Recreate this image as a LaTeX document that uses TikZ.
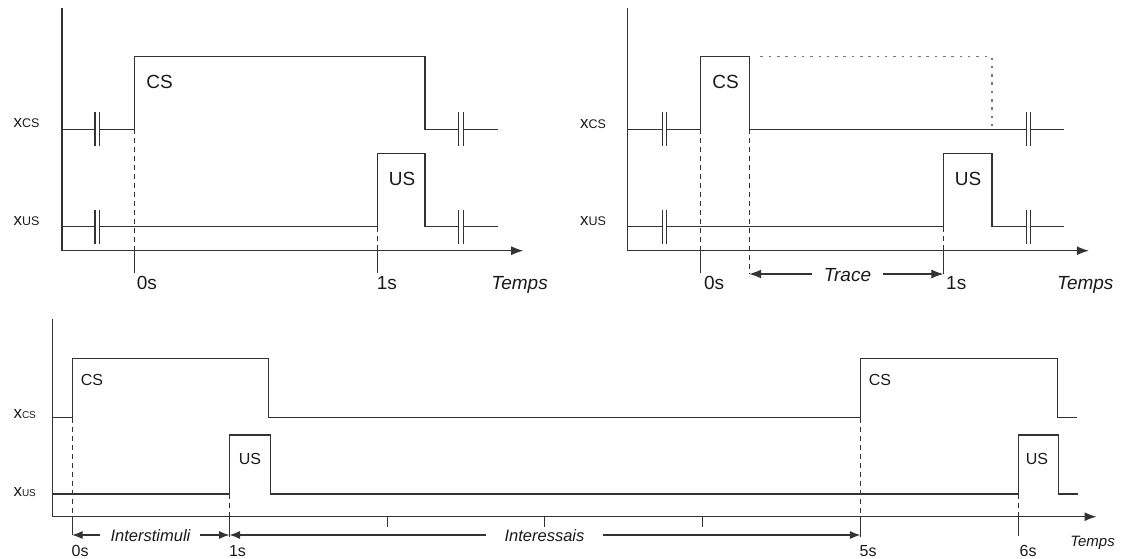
\documentclass[tikz,border=0pt]{standalone}
\usepackage{fontspec}
\setmainfont{Liberation Sans}
\usetikzlibrary{arrows.meta}
\definecolor{ln}{HTML}{333333}
\definecolor{dotc}{HTML}{777777}
\definecolor{txt}{HTML}{1A1A1A}
\newcommand\brkmark[2]{\draw[brk] (#1,#2-17) -- (#1,#2+17) (#1+4.4,#2-17) -- (#1+4.4,#2+17);}
\newcommand\xlab[1]{{\fontsize{17}{16}\selectfont x}{\fontsize{12.5}{12.5}\selectfont #1}}
\newcommand\xlabs[1]{{\fontsize{17}{16}\selectfont x}{\fontsize{10}{10}\selectfont #1}}
\begin{document}
\begin{tikzpicture}[x=1pt,y=-1pt,
  sig/.style={line width=1.1pt,draw=ln},
  ax/.style={line width=1.1pt,draw=ln},
  axarr/.style={ax,-{Latex[length=12pt,width=9pt]}},
  dsh/.style={line width=1pt,draw=ln,dash pattern=on 5pt off 4pt},
  dotl/.style={line width=1.1pt,draw=dotc,dash pattern=on 2.5pt off 5.8pt},
  brk/.style={line width=1.1pt,draw=ln},
  tk/.style={line width=1.1pt,draw=ln},
  dimarr/.style={line width=1.1pt,draw=ln,-{Latex[length=12pt,width=9pt]}},
  dimarrs/.style={line width=1.1pt,draw=ln,-{Latex[length=10.5pt,width=8pt]}},
  lbl/.style={inner sep=0pt,text=txt},
  bigt/.style={lbl,font=\fontsize{19}{19}\selectfont},
  bigi/.style={lbl,font=\fontsize{19}{19}\selectfont\itshape},
  smt/.style={lbl,font=\fontsize{16}{16}\selectfont},
  tmt/.style={lbl,font=\fontsize{16}{16}\selectfont},
  smi/.style={lbl,font=\fontsize{16.5}{16.5}\selectfont\itshape},
  tmi/.style={lbl,font=\fontsize{15}{15}\selectfont\itshape},
  sigl/.style={lbl,anchor=base west}
]
\useasboundingbox (0,0) rectangle (1126,558);

% ================= TOP LEFT =================
\coordinate (A0) at (62,8.3);
\coordinate (A1) at (62,250.7);
\coordinate (A2) at (523.2,250.7);
\draw[ax] (A0) -- (A1);
\draw[axarr] (A1) -- (A2);
% CS
\draw[sig] (62,129.3) -- (95,129.3);
\draw[sig] (99.4,129.3) -- (134.3,129.3) -- (134.3,56.7) -- (425,56.7) -- (425,129.3) -- (458.9,129.3);
\draw[sig] (463.3,129.3) -- (497.5,129.3);
\brkmark{95}{129.3}
\brkmark{458.9}{129.3}
% US
\draw[sig] (62,226.7) -- (95,226.7);
\draw[sig] (99.4,226.7) -- (377.1,226.7) -- (377.1,153.3) -- (425,153.3) -- (425,226.7) -- (458.9,226.7);
\draw[sig] (463.3,226.7) -- (497.5,226.7);
\brkmark{95}{226.7}
\brkmark{458.9}{226.7}
% dashed + ticks
\draw[dsh] (134.3,129.3) -- (134.3,250.7);
\draw[tk] (134.3,250.7) -- (134.3,273.3);
\draw[dsh] (377.1,226.7) -- (377.1,250.7);
\draw[tk] (377.1,250.7) -- (377.1,273.3);
% labels
\node[sigl] (lxcs) at (13.3,127.7) {\xlab{CS}};
\node[sigl] (lxus) at (13.3,225) {\xlab{US}};
\node[bigt,anchor=base] (lcs) at (159.5,88.3) {CS};
\node[bigt,anchor=base] (lus) at (402,185) {US};
\node[bigt,anchor=base west] (l0s) at (136.7,289.5) {0s};
\node[bigt,anchor=base west] (l1s) at (376.6,289.5) {1s};
\node[bigi,anchor=base] (ltemps) at (519.6,289.5) {Temps};

% ================= TOP RIGHT =================
\coordinate (B0) at (627.9,8.3);
\coordinate (B1) at (627.9,250.7);
\coordinate (B2) at (1088.9,250.7);
\draw[ax] (B0) -- (B1);
\draw[axarr] (B1) -- (B2);
% CS
\draw[sig] (627.9,129.3) -- (662.2,129.3);
\draw[sig] (666.6,129.3) -- (700.8,129.3) -- (700.8,56.7) -- (749.2,56.7) -- (749.2,129.3) -- (1026.4,129.3);
\draw[sig] (1030.8,129.3) -- (1064.3,129.3);
\brkmark{662.2}{129.3}
\brkmark{1026.4}{129.3}
\draw[dotl] (760.4,56.7) -- (992,56.7) -- (992,126);
% US
\draw[sig] (627.9,226.7) -- (662.2,226.7);
\draw[sig] (666.6,226.7) -- (943.4,226.7) -- (943.4,153.3) -- (992,153.3) -- (992,226.7) -- (1026.4,226.7);
\draw[sig] (1030.8,226.7) -- (1064.3,226.7);
\brkmark{662.2}{226.7}
\brkmark{1026.4}{226.7}
% dashed + ticks
\draw[dsh] (700.8,129.3) -- (700.8,250.7);
\draw[tk] (700.8,250.7) -- (700.8,273.3);
\draw[dsh] (749.2,129.3) -- (749.2,274);
\draw[dsh] (943.4,226.7) -- (943.4,250.7);
\draw[tk] (943.4,250.7) -- (943.4,274);
% trace arrow
\coordinate (tr0) at (749.2,274);
\coordinate (tr1) at (943.4,274);
\coordinate (trL) at (811.7,274);
\coordinate (trR) at (883.3,274);
\node[bigi,anchor=base] (ltrace) at (847.5,281) {Trace};
\draw[dimarr] (trL) -- (tr0);
\draw[dimarr] (trR) -- (tr1);
% labels
\node[sigl] (rxcs) at (580,128.3) {\xlab{CS}};
\node[sigl] (rxus) at (580,225) {\xlab{US}};
\node[bigt,anchor=base] (rcs) at (725.5,88.3) {CS};
\node[bigt,anchor=base] (rus) at (968,185) {US};
\node[bigt,anchor=base west] (r0s) at (703.8,289.5) {0s};
\node[bigt,anchor=base west] (r1s) at (946,289.5) {1s};
\node[bigi,anchor=base] (rtemps) at (1085.3,289.5) {Temps};

% ================= BOTTOM =================
\coordinate (C0) at (52.5,319.3);
\coordinate (C1) at (52.5,516.7);
\coordinate (C2) at (1096.5,516.7);
\draw[ax] (C0) -- (C1);
\draw[axarr] (C1) -- (C2);
% CS
\draw[sig] (52.5,417.7) -- (72.1,417.7) -- (72.1,358.7) -- (268.9,358.7) -- (268.9,417.7)
  -- (860.4,417.7) -- (860.4,358.7) -- (1057.5,358.7) -- (1057.5,417.7) -- (1077,417.7);
% US
\draw[sig] (52.5,494) -- (229.5,494) -- (229.5,435) -- (270.4,435) -- (270.4,494)
  -- (1018.5,494) -- (1018.5,435) -- (1058.6,435) -- (1058.6,494) -- (1078,494);
% dashed + ticks
\draw[dsh] (72.1,417.7) -- (72.1,516.7);
\draw[tk] (72.1,516.7) -- (72.1,535);
\draw[dsh] (229.5,494) -- (229.5,516.7);
\draw[tk] (229.5,516.7) -- (229.5,536.5);
\draw[dsh] (860.4,417.7) -- (860.4,516.7);
\draw[tk] (860.4,516.7) -- (860.4,536.5);
\draw[dsh] (1018.5,494) -- (1018.5,516.7);
\draw[tk] (1018.5,516.7) -- (1018.5,535.5);
\foreach \t in {387.5,544.6,702.6}{\draw[tk] (\t,516.7) -- (\t,526.7);}
% interval arrows
\coordinate (i0) at (72.1,535);
\coordinate (i1) at (229.5,535);
\coordinate (i5) at (860.4,535);
\coordinate (isL) at (100,535);
\coordinate (isR) at (200,535);
\coordinate (ieL) at (485.7,535);
\coordinate (ieR) at (603.3,535);
\node[smi,anchor=base] (linterst) at (150.5,541) {Interstimuli};
\node[smi,anchor=base] (lintere) at (544.5,541) {Interessais};
\draw[dimarrs] (isL) -- (i0);
\draw[dimarrs] (isR) -- (i1);
\draw[dimarrs] (ieL) -- (i1);
\draw[dimarrs] (ieR) -- (i5);
% labels
\node[sigl] (bxcs) at (13.3,418.3) {\xlabs{CS}};
\node[sigl] (bxus) at (13.3,496.7) {\xlabs{US}};
\node[smt,anchor=base] (bcs1) at (92,385) {CS};
\node[smt,anchor=base] (bus1) at (250,464) {US};
\node[smt,anchor=base] (bcs2) at (880,385) {CS};
\node[smt,anchor=base] (bus2) at (1037,464) {US};
\node[tmt,anchor=base west] (b0s) at (71.5,556) {0s};
\node[tmt,anchor=base west] (b1s) at (228.8,556) {1s};
\node[tmt,anchor=base west] (b5s) at (859.5,556) {5s};
\node[tmt,anchor=base west] (b6s) at (1019.5,556) {6s};
\node[tmi,anchor=base] (btemps) at (1092.5,546.7) {Temps};
\end{tikzpicture}
\end{document}
